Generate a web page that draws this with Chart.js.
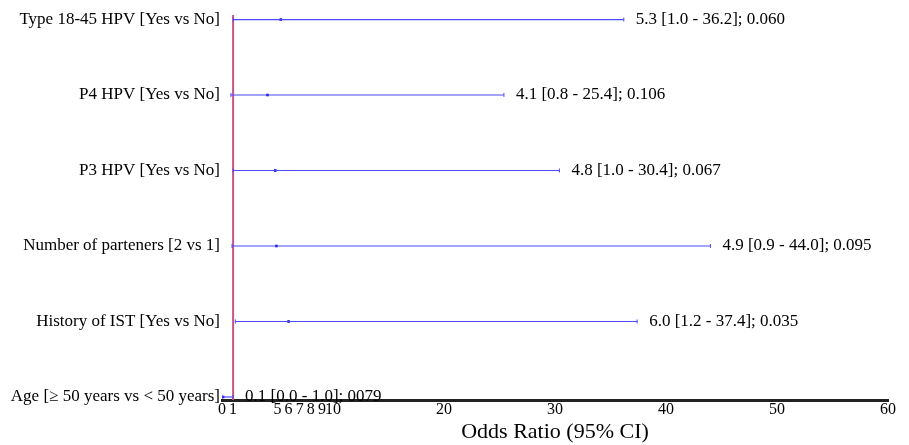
<!DOCTYPE html>
<html>
<head>
<meta charset="utf-8">
<script src="https://cdn.jsdelivr.net/npm/chart.js@4.4.1/dist/chart.umd.min.js"></script>
<style>
  body { margin: 0; background: #fff; }
  #wrap { width: 909px; height: 445px; position: relative; }
</style>
</head>
<body>
<div id="wrap"><canvas id="forest"></canvas></div>
<script>
// forest plot, rows top to bottom
const categorias = [
    'Type 18-45 HPV [Yes vs No]',
    'P4 HPV [Yes vs No]',
    'P3 HPV [Yes vs No]',
    'Number of parteners [2 vs 1]',
    'History of IST [Yes vs No]',
    'Age [\u2265 50 years vs < 50 years]'
];
const oddsRatio = [5.3, 4.1, 4.8, 4.9, 6.0, 0.1];
const icBaixo   = [1.0, 0.8, 1.0, 0.9, 1.2, 0.0];
const icAlto    = [36.2, 25.4, 30.4, 44.0, 37.4, 1.0];
const valoresP  = ['0.060', '0.106', '0.067', '0.095', '0.035', '0079'];
const ticksX    = [0, 1, 5, 6, 7, 8, 9, 10, 20, 30, 40, 50, 60];
const linhaRef  = 1;

const AZUL = 'rgb(75,75,255)';
const SERIF = '"Liberation Serif", "Times New Roman", serif';
const n = categorias.length;
const posY = categorias.map((c, i) => n - 1 - i);

var datasets = [];
categorias.forEach(function (c, i) {
    datasets.push({
        data: [{ x: icBaixo[i], y: posY[i] }, { x: icAlto[i], y: posY[i] }],
        showLine: true,
        borderColor: AZUL,
        borderWidth: 1.2,
        pointStyle: 'line',
        rotation: 90,
        pointRadius: 2,
        pointBorderColor: AZUL,
        pointBorderWidth: 1
    });
});
datasets.push({
    data: oddsRatio.map((v, i) => ({ x: v, y: posY[i] })),
    showLine: false,
    pointStyle: 'rect',
    pointRadius: 1.8,
    backgroundColor: 'rgb(0,0,230)',
    borderColor: 'rgb(0,0,230)',
    borderWidth: 0
});

// linha vertical no OR = 1 e textos a direita
const extras = {
    id: 'extras',
    beforeDatasetsDraw(chart) {
        const ctx = chart.ctx, x = chart.scales.x, a = chart.chartArea;
        const px = x.getPixelForValue(linhaRef);
        ctx.save();
        ctx.strokeStyle = 'rgb(200,85,130)';
        ctx.lineWidth = 2;
        ctx.beginPath();
        ctx.moveTo(px, a.top);
        ctx.lineTo(px, a.bottom);
        ctx.stroke();
        ctx.restore();
    },
    afterDatasetsDraw(chart) {
        const ctx = chart.ctx, x = chart.scales.x, y = chart.scales.y;
        ctx.save();
        ctx.font = '17px ' + SERIF;
        ctx.fillStyle = '#000';
        ctx.textAlign = 'left';
        ctx.textBaseline = 'middle';
        categorias.forEach(function (c, i) {
            const txt = oddsRatio[i].toFixed(1) + ' [' + icBaixo[i].toFixed(1) + ' - ' +
                icAlto[i].toFixed(1) + ']; ' + valoresP[i];
            ctx.fillText(txt, x.getPixelForValue(icAlto[i]) + 12, y.getPixelForValue(posY[i]));
        });
        ctx.restore();
    }
};

var grafico = new Chart(document.getElementById('forest'), {
    type: 'scatter',
    data: { datasets: datasets },
    plugins: [extras],
    options: {
        animation: false,
        responsive: true,
        maintainAspectRatio: false,
        layout: { padding: { top: 15, right: 21, left: 0, bottom: 0 } },
        plugins: { legend: { display: false }, tooltip: { enabled: false } },
        scales: {
            x: {
                type: 'linear',
                min: 0,
                max: 60,
                afterBuildTicks: function (s) { s.ticks = ticksX.map(v => ({ value: v })); },
                afterFit: function (s) { s.height = 45; },
                grid: { display: false, drawTicks: false },
                border: { display: true, color: '#222', width: 3 },
                ticks: {
                    autoSkip: false,
                    maxRotation: 0,
                    padding: 0,
                    color: '#000',
                    font: { family: SERIF, size: 16 }
                },
                title: {
                    display: true,
                    text: 'Odds Ratio (95% CI)',
                    color: '#000',
                    font: { family: SERIF, size: 22 },
                    padding: 0
                }
            },
            y: {
                type: 'linear',
                min: -0.04,
                max: 5.06,
                afterBuildTicks: function (s) { s.ticks = posY.map(v => ({ value: v })); },
                afterFit: function (s) { s.width = 222; },
                grid: { display: false, drawTicks: false },
                border: { display: false },
                ticks: {
                    padding: 2,
                    color: '#000',
                    font: { family: SERIF, size: 17 },
                    callback: function (v) { return categorias[n - 1 - v]; }
                }
            }
        }
    }
});
</script>
</body>
</html>
